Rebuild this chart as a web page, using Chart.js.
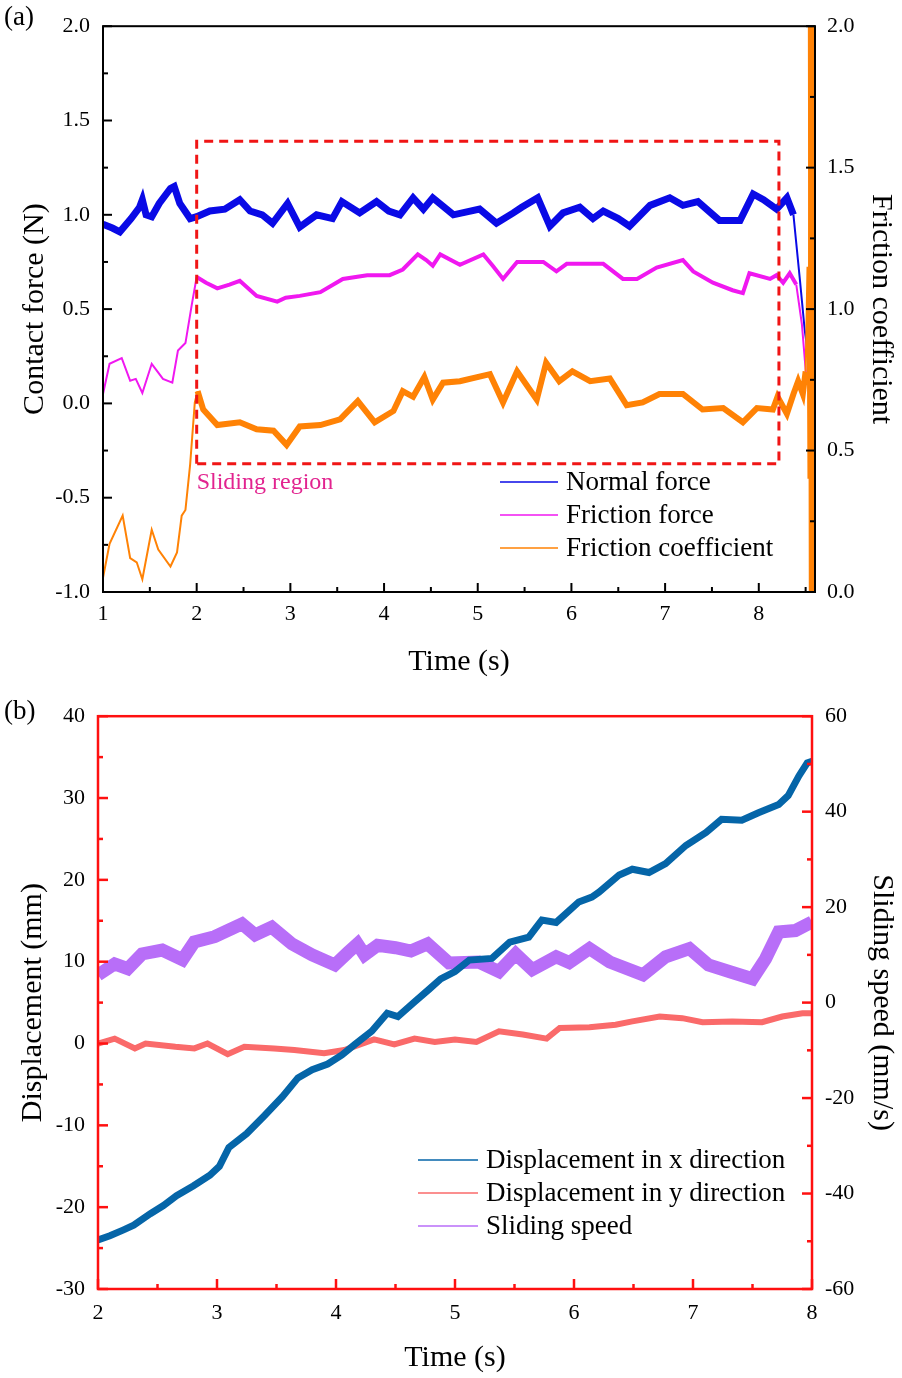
<!DOCTYPE html>
<html>
<head>
<meta charset="utf-8">
<script src="https://cdn.jsdelivr.net/npm/chart.js@4"></script>
<style>
body { margin: 0; background: #fff; }
canvas { display: block; }
</style>
</head>
<body>
<canvas id="chartA" width="902" height="690"></canvas>
<canvas id="chartB" width="902" height="688"></canvas>
<script>
// ---------- panel (a): contact force and friction coefficient ----------
var timeNormal = [1.0, 1.1, 1.18, 1.3, 1.39, 1.42, 1.46, 1.52, 1.6, 1.72, 1.76, 1.82, 1.93, 2.0, 2.14, 2.3, 2.46, 2.57, 2.7, 2.81, 2.97, 3.1, 3.28, 3.45, 3.55, 3.74, 3.92, 4.05, 4.17, 4.31, 4.42, 4.52, 4.74, 5.02, 5.2, 5.38, 5.47, 5.64, 5.77, 5.91, 6.09, 6.23, 6.34, 6.5, 6.62, 6.84, 7.05, 7.19, 7.35, 7.58, 7.8, 7.94, 8.05, 8.19, 8.3, 8.37, 8.44, 8.49, 8.52];
var normalForce = [0.95, 0.93, 0.91, 0.98, 1.04, 1.08, 1.0, 0.99, 1.06, 1.14, 1.15, 1.06, 0.98, 0.99, 1.02, 1.03, 1.08, 1.02, 1.0, 0.955, 1.06, 0.935, 1.0, 0.98, 1.07, 1.01, 1.07, 1.02, 1.0, 1.09, 1.03, 1.09, 1.0, 1.03, 0.955, 1.01, 1.04, 1.09, 0.94, 1.01, 1.04, 0.98, 1.02, 0.98, 0.94, 1.05, 1.09, 1.05, 1.07, 0.97, 0.97, 1.11, 1.08, 1.03, 1.09, 1.0, 0.65, 0.39, 0.28];

var timeFriction = [1.0, 1.07, 1.2, 1.29, 1.35, 1.42, 1.52, 1.58, 1.64, 1.74, 1.8, 1.88, 1.95, 2.0, 2.1, 2.22, 2.35, 2.46, 2.64, 2.86, 2.95, 3.1, 3.32, 3.56, 3.82, 4.06, 4.2, 4.36, 4.45, 4.52, 4.6, 4.81, 5.06, 5.16, 5.27, 5.42, 5.7, 5.84, 5.95, 6.34, 6.55, 6.7, 6.91, 7.19, 7.3, 7.51, 7.72, 7.83, 7.9, 8.12, 8.19, 8.26, 8.33, 8.4, 8.46, 8.51];
var frictionForce = [0.05, 0.21, 0.24, 0.12, 0.13, 0.055, 0.21, 0.17, 0.13, 0.11, 0.28, 0.32, 0.53, 0.67, 0.64, 0.61, 0.63, 0.65, 0.57, 0.54, 0.56, 0.57, 0.59, 0.66, 0.68, 0.68, 0.71, 0.79, 0.76, 0.73, 0.79, 0.735, 0.79, 0.73, 0.66, 0.75, 0.75, 0.70, 0.74, 0.74, 0.66, 0.66, 0.72, 0.76, 0.70, 0.64, 0.60, 0.585, 0.69, 0.66, 0.68, 0.64, 0.69, 0.63, 0.42, 0.12];

var timeCoef = [1.0, 1.07, 1.21, 1.29, 1.36, 1.42, 1.52, 1.59, 1.72, 1.79, 1.84, 1.88, 1.93, 1.98, 2.01, 2.07, 2.22, 2.46, 2.64, 2.82, 2.96, 3.1, 3.32, 3.53, 3.72, 3.9, 4.1, 4.2, 4.31, 4.43, 4.52, 4.63, 4.81, 5.13, 5.27, 5.42, 5.63, 5.73, 5.87, 6.01, 6.2, 6.41, 6.59, 6.76, 6.94, 7.19, 7.4, 7.62, 7.83, 7.98, 8.15, 8.2, 8.3, 8.37, 8.42, 8.47, 8.5, 8.52, 8.53, 8.545, 8.555, 8.565, 8.575, 8.585, 8.595];
var frictionCoef = [0.05, 0.17, 0.27, 0.12, 0.105, 0.045, 0.22, 0.15, 0.09, 0.14, 0.27, 0.29, 0.45, 0.67, 0.71, 0.645, 0.59, 0.60, 0.575, 0.57, 0.52, 0.585, 0.59, 0.61, 0.675, 0.60, 0.64, 0.71, 0.69, 0.76, 0.68, 0.74, 0.745, 0.77, 0.67, 0.78, 0.68, 0.81, 0.745, 0.78, 0.745, 0.755, 0.66, 0.67, 0.70, 0.70, 0.645, 0.65, 0.60, 0.65, 0.645, 0.69, 0.63, 0.70, 0.745, 0.70, 0.78, 1.15, 0.4, 2.0, 0.0, 2.0, 0.0, 2.0, 0.0];

// sliding region box corners (time, force)
var boxTime = [2.0, 2.0, 8.215, 8.215, 2.0];
var boxForce = [-0.32, 1.39, 1.39, -0.32, -0.32];

// ---------- panel (b): displacement and sliding speed ----------
var timeDispX = [2.0, 2.1, 2.21, 2.3, 2.44, 2.55, 2.66, 2.8, 2.94, 3.02, 3.1, 3.25, 3.4, 3.55, 3.68, 3.8, 3.93, 4.05, 4.16, 4.3, 4.43, 4.52, 4.66, 4.78, 4.88, 5.0, 5.12, 5.31, 5.46, 5.62, 5.73, 5.85, 6.04, 6.15, 6.21, 6.38, 6.49, 6.63, 6.77, 6.94, 7.11, 7.24, 7.41, 7.55, 7.72, 7.8, 7.89, 7.96, 8.0];
var dispX = [-24, -23.5, -22.8, -22.2, -20.8, -19.8, -18.6, -17.4, -16.1, -15, -12.7, -11, -8.8, -6.5, -4.2, -3.2, -2.5, -1.4, -0.1, 1.5, 3.7, 3.3, 5.1, 6.6, 7.9, 8.8, 10.2, 10.4, 12.4, 13.0, 15.1, 14.8, 17.3, 17.9, 18.5, 20.6, 21.3, 20.9, 22, 24.2, 25.8, 27.4, 27.3, 28.2, 29.2, 30.3, 32.7, 34.3, 34.5];

var timeDispY = [2.0, 2.14, 2.31, 2.4, 2.65, 2.81, 2.92, 3.09, 3.23, 3.48, 3.65, 3.9, 4.07, 4.32, 4.49, 4.66, 4.83, 5.0, 5.18, 5.37, 5.57, 5.77, 5.88, 6.13, 6.35, 6.49, 6.72, 6.91, 7.08, 7.33, 7.58, 7.75, 7.92, 8.0];
var dispY = [0, 0.6, -0.6, 0, -0.4, -0.6, 0, -1.3, -0.4, -0.6, -0.8, -1.2, -0.8, 0.5, -0.1, 0.6, 0.2, 0.5, 0.2, 1.5, 1.1, 0.6, 1.9, 2.0, 2.3, 2.7, 3.3, 3.1, 2.6, 2.7, 2.6, 3.3, 3.7, 3.7];

var timeSpeed = [2.0, 2.14, 2.25, 2.37, 2.54, 2.71, 2.81, 2.98, 3.21, 3.32, 3.46, 3.63, 3.8, 3.99, 4.1, 4.18, 4.24, 4.35, 4.5, 4.63, 4.77, 4.95, 5.2, 5.37, 5.51, 5.65, 5.85, 5.96, 6.13, 6.3, 6.58, 6.77, 6.97, 7.13, 7.33, 7.5, 7.61, 7.72, 7.86, 8.0];
var slidingSpeed = [5.8, 8.1, 7.1, 10.2, 11, 9, 12.7, 13.8, 16.5, 14.2, 15.8, 12.3, 10, 7.9, 10.5, 12.3, 10, 12, 11.5, 10.8, 12.3, 8.3, 8.5, 6.5, 10.2, 6.9, 9.6, 8.4, 11.3, 8.5, 5.8, 9.6, 11.3, 7.9, 6.3, 5.0, 9.2, 14.8, 15.1, 16.9];

var FONT = "'Liberation Serif', 'Times New Roman', serif";

function pts(xs, ys) {
  return xs.map(function (x, i) { return { x: x, y: ys[i] }; });
}

// thick band inside [from, to], thin line elsewhere
function band(thin, thick, from, to) {
  return function (ctx) {
    return (ctx.p0.parsed.x >= from && ctx.p1.parsed.x <= to) ? thick : thin;
  };
}

function isMult(v, step) {
  return Math.abs(v / step - Math.round(v / step)) < 1e-6;
}

var innerTicks = {
  id: 'innerTicks',
  afterDraw: function (chart, args, opts) {
    var ctx = chart.ctx, a = chart.chartArea;
    ctx.save();
    ctx.strokeStyle = opts.color;
    ctx.lineWidth = opts.width;
    Object.values(chart.scales).forEach(function (s) {
      s.ticks.forEach(function (t) {
        var len = t.label !== '' ? opts.major : opts.minor;
        var p = s.getPixelForValue(t.value);
        ctx.beginPath();
        if (s.isHorizontal()) {
          ctx.moveTo(p, a.bottom); ctx.lineTo(p, a.bottom - len);
        } else if (s.position === 'left') {
          ctx.moveTo(a.left, p); ctx.lineTo(a.left + len, p);
        } else {
          ctx.moveTo(a.right, p); ctx.lineTo(a.right - len, p);
        }
        ctx.stroke();
      });
    });
    ctx.strokeRect(a.left, a.top, a.right - a.left, a.bottom - a.top);
    ctx.restore();
  }
};

var innerLegend = {
  id: 'innerLegend',
  afterDraw: function (chart, args, opts) {
    var ctx = chart.ctx;
    ctx.save();
    ctx.font = opts.size + 'px ' + FONT;
    ctx.textBaseline = 'middle';
    ctx.fillStyle = '#000';
    var row = 0;
    chart.data.datasets.forEach(function (ds) {
      if (ds.noLegend) return;
      var y = opts.y + row * opts.gap;
      ctx.strokeStyle = ds.borderColor;
      ctx.lineWidth = 1.5;
      ctx.beginPath();
      ctx.moveTo(opts.x, y); ctx.lineTo(opts.x + opts.lineLen, y);
      ctx.stroke();
      ctx.fillText(ds.label, opts.x + opts.lineLen + 8, y + 1);
      row++;
    });
    if (opts.panel) {
      ctx.font = '27px ' + FONT;
      ctx.fillText(opts.panel, 4, opts.panelY);
    }
    if (opts.note) {
      ctx.font = '24px ' + FONT;
      ctx.fillStyle = opts.note.color;
      ctx.fillText(opts.note.text, chart.scales.x.getPixelForValue(opts.note.x), chart.scales.y.getPixelForValue(opts.note.y));
    }
    ctx.restore();
  }
};

function axisFont() { return { family: FONT, size: 22 }; }
function titleFont() { return { family: FONT, size: 30 }; }

new Chart(document.getElementById('chartA'), {
  type: 'line',
  data: {
    datasets: [
      {
        label: 'Sliding region', noLegend: true, order: 0,
        data: pts(boxTime, boxForce), yAxisID: 'y',
        borderColor: '#f01515', borderWidth: 3, borderDash: [9, 6], pointRadius: 0
      },
      {
        label: 'Normal force', order: 3,
        data: pts(timeNormal, normalForce), yAxisID: 'y',
        borderColor: '#0a0ae6', pointRadius: 0, borderWidth: 7,
        segment: { borderWidth: band(2, 7, 0.9, 8.4) }
      },
      {
        label: 'Friction force', order: 2,
        data: pts(timeFriction, frictionForce), yAxisID: 'y',
        borderColor: '#f018f0', pointRadius: 0, borderWidth: 4,
        segment: { borderWidth: band(2, 4, 1.99, 8.42) }
      },
      {
        label: 'Friction coefficient', order: 1,
        data: pts(timeCoef, frictionCoef), yAxisID: 'y1',
        borderColor: '#ff8205', pointRadius: 0, borderWidth: 6,
        segment: { borderWidth: function (ctx) {
          var x0 = ctx.p0.parsed.x;
          if (x0 >= 8.54) return 4;
          return (x0 >= 2.0 && ctx.p1.parsed.x <= 8.5) ? 6 : 2;
        } }
      }
    ]
  },
  options: {
    responsive: false,
    animation: false,
    layout: { padding: { top: 18, left: 0, right: 0, bottom: 0 } },
    plugins: {
      legend: { display: false },
      tooltip: { enabled: false },
      innerTicks: { color: '#000', width: 2, major: 9, minor: 5 },
      innerLegend: {
        x: 500, y: 482, gap: 33, lineLen: 58, size: 27, panel: '(a)', panelY: 18,
        note: { text: 'Sliding region', x: 2.0, y: -0.42, color: '#e2238f' }
      }
    },
    scales: {
      x: {
        type: 'linear', min: 1, max: 8.6,
        grid: { display: false, drawTicks: false }, border: { display: false },
        ticks: {
          stepSize: 0.5, includeBounds: false, autoSkip: false, maxRotation: 0, maxTicksLimit: 1000,
          padding: 9, color: '#000', font: axisFont(),
          callback: function (v) { return isMult(v, 1) ? String(Math.round(v)) : ''; }
        },
        title: { display: true, text: 'Time (s)', color: '#000', font: titleFont(), padding: { bottom: 10 } },
        afterFit: function (s) { s.height = 98; }
      },
      y: {
        position: 'left', min: -1, max: 2,
        grid: { display: false, drawTicks: false }, border: { display: false },
        ticks: {
          stepSize: 0.25, autoSkip: false, maxTicksLimit: 1000, padding: 13, color: '#000', font: axisFont(),
          callback: function (v) { return isMult(v, 0.5) ? v.toFixed(1) : ''; }
        },
        title: { display: true, text: 'Contact force (N)', color: '#000', font: titleFont(), padding: { top: 17 } },
        afterFit: function (s) { s.width = 103; }
      },
      y1: {
        position: 'right', min: 0, max: 2,
        grid: { display: false, drawTicks: false }, border: { display: false },
        ticks: {
          stepSize: 0.25, autoSkip: false, maxTicksLimit: 1000, padding: 12, color: '#000', font: axisFont(),
          callback: function (v) { return isMult(v, 0.5) ? v.toFixed(1) : ''; }
        },
        title: { display: true, text: 'Friction coefficient', color: '#000', font: titleFont(), padding: { top: 3 } },
        afterFit: function (s) { s.width = 87; }
      }
    }
  },
  plugins: [innerTicks, innerLegend]
});

new Chart(document.getElementById('chartB'), {
  type: 'line',
  data: {
    datasets: [
      {
        label: 'Displacement in x direction', order: 1,
        data: pts(timeDispX, dispX), yAxisID: 'y',
        borderColor: '#0565a8', pointRadius: 0, borderWidth: 7
      },
      {
        label: 'Displacement in y direction', order: 2,
        data: pts(timeDispY, dispY), yAxisID: 'y',
        borderColor: '#fa6a6a', pointRadius: 0, borderWidth: 6
      },
      {
        label: 'Sliding speed', order: 3,
        data: pts(timeSpeed, slidingSpeed), yAxisID: 'y1',
        borderColor: '#b86ef8', pointRadius: 0, borderWidth: 13
      }
    ]
  },
  options: {
    responsive: false,
    animation: false,
    layout: { padding: { top: 23, left: 0, right: 0, bottom: 0 } },
    plugins: {
      legend: { display: false },
      tooltip: { enabled: false },
      innerTicks: { color: '#ff1010', width: 2.5, major: 10, minor: 5 },
      innerLegend: { x: 418, y: 470, gap: 33, lineLen: 60, size: 27, panel: '(b)', panelY: 22 }
    },
    scales: {
      x: {
        type: 'linear', min: 2, max: 8,
        grid: { display: false, drawTicks: false }, border: { display: false },
        ticks: {
          stepSize: 0.5, autoSkip: false, maxRotation: 0, maxTicksLimit: 1000,
          padding: 11, color: '#000', font: axisFont(),
          callback: function (v) { return isMult(v, 1) ? String(Math.round(v)) : ''; }
        },
        title: { display: true, text: 'Time (s)', color: '#000', font: titleFont(), padding: { bottom: 2 } },
        afterFit: function (s) { s.height = 89; }
      },
      y: {
        position: 'left', min: -30, max: 40,
        grid: { display: false, drawTicks: false }, border: { display: false },
        ticks: {
          stepSize: 5, autoSkip: false, maxTicksLimit: 1000, padding: 13, color: '#000', font: axisFont(),
          callback: function (v) { return isMult(v, 10) ? String(v) : ''; }
        },
        title: { display: true, text: 'Displacement (mm)', color: '#000', font: titleFont(), padding: { top: 15 } },
        afterFit: function (s) { s.width = 98; }
      },
      y1: {
        position: 'right', min: -60, max: 60,
        grid: { display: false, drawTicks: false }, border: { display: false },
        ticks: {
          stepSize: 10, autoSkip: false, maxTicksLimit: 1000, padding: 13, color: '#000', font: axisFont(),
          callback: function (v) { return isMult(v, 20) ? String(v) : ''; }
        },
        title: { display: true, text: 'Sliding speed (mm/s)', color: '#000', font: titleFont(), padding: { top: 2 } },
        afterFit: function (s) { s.width = 90; }
      }
    }
  },
  plugins: [innerTicks, innerLegend]
});
</script>
</body>
</html>
